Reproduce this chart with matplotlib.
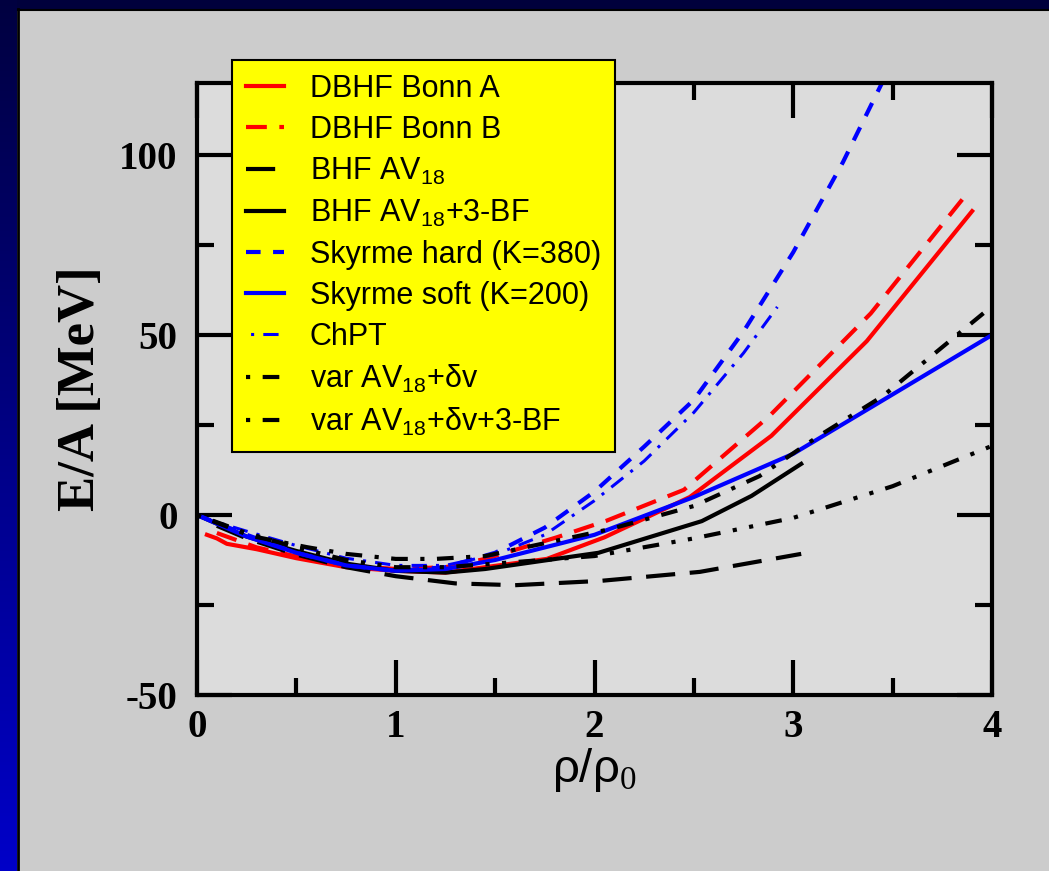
import matplotlib
matplotlib.use("Agg")
import matplotlib.pyplot as plt
import numpy as np
from matplotlib.ticker import MultipleLocator

plt.rcParams['mathtext.fontset'] = 'custom'
plt.rcParams['mathtext.rm'] = 'Liberation Serif'
plt.rcParams['mathtext.sf'] = 'Liberation Sans'
plt.rcParams['axes.unicode_minus'] = False

# E/A [MeV] vs rho/rho0
bonnA_x = [0.05, 0.1, 0.15, 0.3, 0.5, 0.75, 1.0, 1.25, 1.45, 1.76, 2.05, 2.48, 2.89, 3.37, 3.9]
bonnA_y = [-5.5, -6.5, -8.0, -9.5, -12.0, -14.5, -15.5, -16.0, -14.5, -12.2, -6.2, 5.0, 22.0, 48.3, 84.4]

bonnB_x = [0.1, 0.3, 0.5, 0.75, 1.0, 1.25, 1.45, 1.81, 2.06, 2.45, 2.88, 3.39, 3.86]
bonnB_y = [-5.0, -9.0, -11.5, -14.0, -15.0, -14.5, -12.2, -6.2, -1.6, 7.0, 27.5, 56.0, 88.3]

bhf_x = [0.1, 0.25, 0.5, 0.75, 1.0, 1.3, 1.6, 2.03, 2.53, 3.04]
bhf_y = [-3.0, -6.5, -11.0, -14.5, -17.0, -19.0, -19.5, -18.3, -15.8, -10.8]

bhf3_x = [0.0, 0.25, 0.5, 0.75, 1.0, 1.25, 1.45, 2.02, 2.54, 2.79, 3.04]
bhf3_y = [0.0, -6.0, -10.0, -13.5, -15.5, -16.0, -15.0, -10.5, -1.7, 5.3, 14.2]

hard_x = [0.0, 0.25, 0.5, 0.75, 1.0, 1.25, 1.5, 1.75, 2.0, 2.25, 2.5, 2.75, 3.0, 3.25, 3.5]
hard_y = [0.0, -5.5, -10.5, -14.0, -15.5, -14.5, -10.5, -3.5, 6.5, 19.0, 32.0, 51.0, 73.0, 98.0, 126.0]

soft_x = [0.0, 0.25, 0.5, 0.75, 1.0, 1.25, 1.5, 1.75, 2.0, 2.5, 3.0, 3.5, 4.0]
soft_y = [0.0, -6.0, -10.5, -14.0, -15.5, -15.0, -12.5, -9.0, -5.5, 5.0, 17.0, 33.5, 50.0]

chpt_x = [0.1, 0.25, 0.5, 0.75, 1.0, 1.25, 1.5, 1.75, 2.0, 2.25, 2.5, 2.75, 2.92]
chpt_y = [-2.0, -4.5, -8.5, -12.0, -14.0, -14.0, -11.0, -5.5, 4.0, 15.0, 28.5, 45.0, 57.8]

var_x = [0.0, 0.25, 0.5, 0.75, 1.0, 1.25, 1.5, 2.0, 2.5, 3.0, 3.5, 4.0]
var_y = [0.0, -5.0, -9.0, -12.5, -14.5, -14.5, -13.5, -11.4, -6.5, -0.8, 8.0, 19.2]

var3_x = [0.0, 0.27, 0.55, 0.75, 1.0, 1.2, 1.45, 2.08, 2.5, 2.83, 3.13, 3.45, 4.0]
var3_y = [0.0, -5.8, -8.9, -10.8, -12.2, -12.2, -11.4, -3.9, 2.5, 10.8, 22.0, 33.0, 58.0]

fig = plt.figure(figsize=(10.49, 8.71), dpi=100, facecolor="#cccccc")

# slide frame: dark top strip and blue gradient at the left
top = fig.add_axes([0, 1 - 9 / 871, 1, 9 / 871])
top.set_axis_off()
top.add_patch(plt.Rectangle((0, 0), 1, 1, color="#00003c", transform=top.transAxes))
left = fig.add_axes([0, 0, 17 / 1049, 1])
left.imshow(np.linspace(0, 1, 256).reshape(-1, 1), aspect="auto", origin="upper",
            cmap=matplotlib.colors.LinearSegmentedColormap.from_list("b", ["#000040", "#0000c8"]),
            extent=[0, 1, 0, 1])
left.set_axis_off()
fig.add_artist(plt.Line2D([18 / 1049, 18 / 1049], [0, 1 - 9 / 871], color="black", lw=2,
                          transform=fig.transFigure))
fig.add_artist(plt.Line2D([18 / 1049, 1], [1 - 10 / 871, 1 - 10 / 871], color="black", lw=1.5,
                          transform=fig.transFigure))

ax = fig.add_axes([197 / 1049, 176 / 871, 795 / 1049, 612 / 871])
ax.set_facecolor("#dcdcdc")

lw = 3.0
ax.plot(bonnA_x, bonnA_y, color="red", lw=lw, label="DBHF Bonn A")
ax.plot(bonnB_x, bonnB_y, color="red", lw=lw, dashes=(5, 3), label="DBHF Bonn B")
ax.plot(bhf_x, bhf_y, color="black", lw=lw, dashes=(7, 3.5), label=r"BHF AV$_\mathsf{18}$")
ax.plot(bhf3_x, bhf3_y, color="black", lw=lw, label=r"BHF AV$_\mathsf{18}$+3-BF")
ax.plot(hard_x, hard_y, color="blue", lw=lw, dashes=(3.5, 3), label="Skyrme hard (K=380)")
ax.plot(soft_x, soft_y, color="blue", lw=lw, label="Skyrme soft (K=200)")
ax.plot(chpt_x, chpt_y, color="blue", lw=2.2, ls=(6.5, (5, 3, 1, 3)), label="ChPT")
ax.plot(var_x, var_y, color="black", lw=lw, ls=(11, (4, 3, 1, 3, 1, 3)),
        label=r"var AV$_\mathsf{18}$+δv")
ax.plot(var3_x, var3_y, color="black", lw=lw, ls=(7, (4, 3, 1, 3)),
        label=r"var AV$_\mathsf{18}$+δv+3-BF")

ax.set_xlim(0, 4)
ax.set_ylim(-50, 120)
ax.xaxis.set_major_locator(MultipleLocator(1))
ax.xaxis.set_minor_locator(MultipleLocator(0.5))
ax.yaxis.set_major_locator(MultipleLocator(50))
ax.yaxis.set_minor_locator(MultipleLocator(25))
ax.tick_params(which="both", direction="in", top=True, right=True, width=3, color="black")
ax.tick_params(which="major", length=25)
ax.tick_params(which="minor", length=12)
for s in ax.spines.values():
    s.set_linewidth(3)

for lab in ax.get_xticklabels() + ax.get_yticklabels():
    lab.set_fontfamily("Liberation Serif")
    lab.set_fontweight("bold")
    lab.set_fontsize(28)
ax.tick_params(axis="x", pad=10)
ax.tick_params(axis="y", pad=14)

ax.set_ylabel("E/A [MeV]", family="Liberation Serif", fontweight="bold", fontsize=38, labelpad=10)
ax.set_xlabel(r"ρ/ρ$_\mathrm{0}$", family="Liberation Sans", fontsize=34, labelpad=0)

leg = fig.legend(loc="upper left", bbox_to_anchor=(232 / 1049, 1 - 60 / 871),
                 prop={"family": "Liberation Sans", "size": 22}, frameon=True, fancybox=False,
                 facecolor="yellow", edgecolor="black", framealpha=1, handlelength=1.25,
                 handletextpad=0.85, borderpad=0.45, labelspacing=0.36, borderaxespad=0)
leg.get_frame().set_linewidth(1.5)

fig.savefig("out.png", dpi=100, facecolor=fig.get_facecolor())
